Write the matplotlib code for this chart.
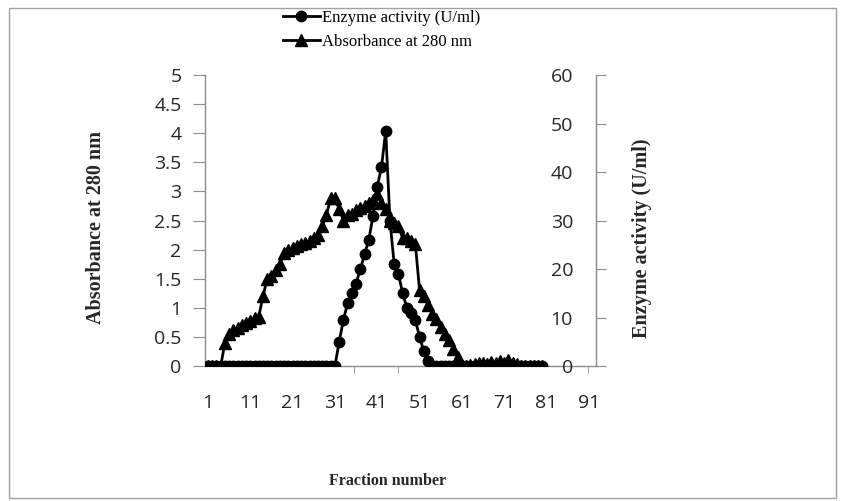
import matplotlib
matplotlib.use('Agg')
import matplotlib.pyplot as plt
from matplotlib.patches import Rectangle
from matplotlib.transforms import blended_transform_factory

# Colors
LINE = '#000000'
AXIS = '#8c8c8c'
TEXT = '#262626'

fractions = list(range(1, 81))

absorbance = [0, 0, 0, 0, 0.4, 0.55, 0.62, 0.66, 0.7, 0.74,
              0.78, 0.82, 0.85, 1.2, 1.5, 1.55, 1.65, 1.75, 1.95, 2.0,
              2.03, 2.06, 2.1, 2.12, 2.15, 2.2, 2.25, 2.4, 2.6, 2.88,
              2.88, 2.7, 2.5, 2.6, 2.62, 2.68, 2.72, 2.75, 2.8, 2.85,
              2.95, 2.8, 2.7, 2.5, 2.45, 2.4, 2.2, 2.2, 2.15, 2.1,
              1.3, 1.2, 1.05, 0.9, 0.8, 0.67, 0.55, 0.45, 0.3, 0.15,
              0.02, 0, 0.02, 0.03, 0.05, 0.06, 0.04, 0.07, 0.05, 0.08,
              0.06, 0.1, 0.05, 0.03, 0, 0, 0, 0, 0, 0]

enzyme = [0] * 31 + [5, 9.5, 13, 15, 17, 20, 23, 26, 31, 37,
                     41, 48.5, 30, 21, 19, 15, 12, 11, 9.5, 6,
                     3, 1] + [0] * 27

abs_ticks = [0, 0.5, 1, 1.5, 2, 2.5, 3, 3.5, 4, 4.5, 5]
abs_ticklabels = ['0', '0.5', '1', '1.5', '2', '2.5', '3', '3.5', '4', '4.5', '5']
enz_ticks = [0, 10, 20, 30, 40, 50, 60]
x_ticks = [1, 11, 21, 31, 41, 51, 61, 71, 81, 91]

W, H = 842, 501
fig = plt.figure(figsize=(W / 100, H / 100), dpi=100, facecolor='white')

# chart border
fig.patches.append(Rectangle((9 / W, 3 / H), 827 / W, 490 / H, transform=fig.transFigure,
                             fill=False, edgecolor='#a0a0a0', linewidth=1))

ax1 = fig.add_axes([205 / W, 1 - 366 / H, 391 / W, 291 / H])
ax2 = ax1.twinx()

tick_font = dict(family='Open Sans', size=14, color=TEXT)

# Absorbance on the left axis
l_abs, = ax1.plot(fractions, absorbance, color=LINE, linewidth=2, marker='^',
                  markersize=8.5, label='Absorbance at 280 nm')
ax1.set_xlim(0.29, 92.7)
ax1.set_ylim(0, 5)
ax1.set_yticks(abs_ticks)
ax1.set_yticklabels(abs_ticklabels, **tick_font)
ax1.set_xticks(x_ticks)
ax1.set_xticklabels([str(t) for t in x_ticks], **tick_font)
ax1.set_xticks([35.4, 45.8, 90.8], minor=True)
ax1.tick_params(axis='x', which='major', length=0, pad=20)
ax1.tick_params(axis='x', which='minor', length=5, color=AXIS, direction='out')
ax1.tick_params(axis='y', length=9, color=AXIS, direction='out', pad=8)

# Enzyme activity on the right axis
l_enz, = ax2.plot(fractions, enzyme, color=LINE, linewidth=2, marker='o',
                  markersize=7.5, label='Enzyme activity (U/ml)')
ax2.set_ylim(0, 60)
ax2.set_yticks(enz_ticks)
ax2.tick_params(axis='y', length=7, color=AXIS, direction='out', labelright=False)
# right-axis labels sit inside, to the left of the spine
tr = blended_transform_factory(ax2.transAxes, ax2.transData)
for v in enz_ticks:
    ax2.text((573 - 205) / 391, v, str(v), transform=tr, ha='right', va='center_baseline',
             clip_on=False, **tick_font)

for ax in (ax1, ax2):
    ax.spines['top'].set_visible(False)
    for s in ('left', 'right', 'bottom'):
        ax.spines[s].set_color(AXIS)
        ax.spines[s].set_linewidth(1)
ax1.spines['right'].set_visible(False)
ax2.spines['left'].set_visible(False)
ax2.spines['bottom'].set_visible(False)

# Axis titles
lab_font = dict(family='Liberation Serif', fontweight='bold', color=TEXT)
fig.text(96 / W, 1 - 227 / H, 'Absorbance at 280 nm', rotation=90,
         ha='center', va='center', size=14.5, **lab_font)
fig.text(642 / W, 1 - 238 / H, 'Enzyme activity (U/ml)', rotation=90,
         ha='center', va='center', size=14.5, **lab_font)
fig.text(388 / W, 1 - 481 / H, 'Fraction number', ha='center', va='center',
         size=11.5, **lab_font)

# Legend
fig.legend(handles=[l_enz, l_abs], loc='upper left', bbox_to_anchor=(283 / W, 1 - 10 / H),
           frameon=False, borderpad=0, borderaxespad=0, handlelength=2.2,
           handletextpad=0.15, labelspacing=0.45,
           prop=dict(family='Liberation Serif', size=12))

plt.savefig('out.png', dpi=100, facecolor='white')
plt.close()
